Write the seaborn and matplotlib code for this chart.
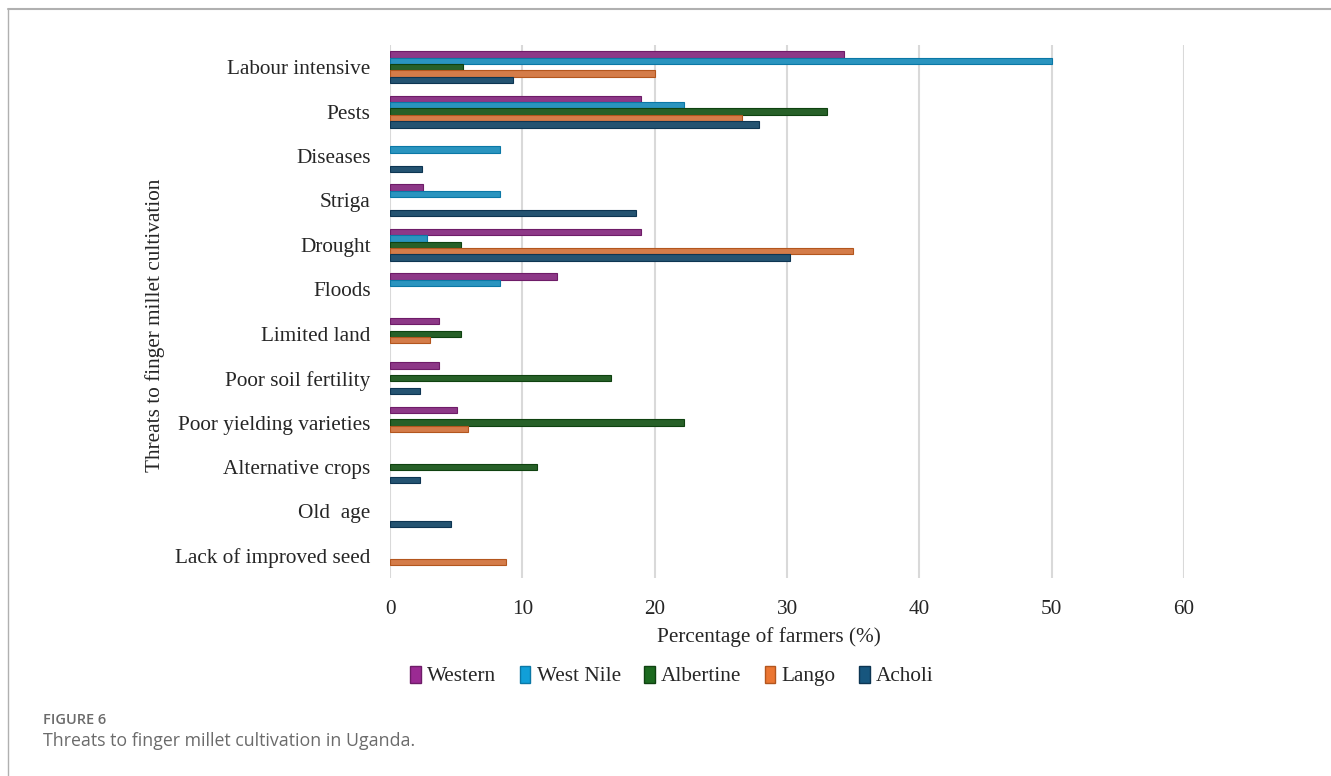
import seaborn as sns, numpy as np, pandas as pd, matplotlib.pyplot as plt
from matplotlib.lines import Line2D
from matplotlib.patches import Patch

# categories (top to bottom)
threats = ['Labour intensive', 'Pests', 'Diseases', 'Striga', 'Drought', 'Floods',
           'Limited land', 'Poor soil fertility', 'Poor yielding varieties',
           'Alternative crops', 'Old  age', 'Lack of improved seed']
regions = ['Western', 'West Nile', 'Albertine', 'Lango', 'Acholi']

# percentage of farmers per region (0 = no bar)
western   = [34.3, 19.0, 0,   2.5,  19.0, 12.6, 3.7, 3.7,  5.1,  0,    0,   0]
west_nile = [50.0, 22.2, 8.3, 8.3,  2.8,  8.3,  0,   0,    0,    0,    0,   0]
albertine = [5.5,  33.0, 0,   0,    5.4,  0,    5.4, 16.7, 22.2, 11.1, 0,   0]
lango     = [20.0, 26.6, 0,   0,    35.0, 0,    3.0, 0,    5.9,  0,    0,   8.8]
acholi    = [9.3,  27.9, 2.4, 18.6, 30.2, 0,    0,   2.3,  0,    2.3,  4.6, 0]

colors = ['#9B2A93', '#119FD8', '#1D6A1F', '#EB7632', '#17567E']
edges = ['#6e1c68', '#0b78a6', '#0f4210', '#b3561e', '#0d3552']

rows = []
for reg, vals in zip(regions, [western, west_nile, albertine, lango, acholi]):
    for t, v in zip(threats, vals):
        if v > 0:
            rows.append({'threat': t, 'region': reg, 'pct': v})
df = pd.DataFrame(rows)

sns.set_style('white')
plt.rcParams['font.family'] = ['Liberation Serif', 'DejaVu Serif']
fs = 15.3

fig = plt.figure(figsize=(13.31, 7.76), dpi=100)
ax = fig.add_axes([390 / 1331, 1 - 578 / 776, (1184 - 390) / 1331, (578 - 45) / 776])

sns.barplot(data=df, y='threat', x='pct', hue='region', order=threats, hue_order=regions,
            palette=colors, orient='h', width=0.72, ax=ax, legend=False, linewidth=0.8)
for cont, ec in zip(ax.containers, edges):
    for b in cont:
        b.set_edgecolor(ec)

ax.set_xlim(0, 60)
ax.set_ylim(len(threats) - 0.5, -0.5)
ax.set_xticks(range(0, 61, 10))
ax.grid(axis='x', color='#d9d9d9', linewidth=1.5)
ax.set_axisbelow(True)
for s in ax.spines.values():
    s.set_visible(False)
ax.tick_params(axis='both', length=0, labelsize=fs)
ax.tick_params(axis='x', pad=16)
ax.tick_params(axis='y', pad=14)
ax.set_ylabel('')
ax.set_xlabel('Percentage of farmers (%)', fontsize=fs)
ax.xaxis.set_label_coords((769 - 390) / 794, -(637 - 578) / 533)
ax.xaxis.label.set_va('center')

fig.text(155 / 1331, 1 - 325 / 776, 'Threats to finger millet cultivation', rotation=90,
         ha='center', va='center', fontsize=fs)

handles = [Patch(facecolor=c, edgecolor=e) for c, e in zip(colors, edges)]
fig.legend(handles, regions, loc='center', bbox_to_anchor=(672 / 1331, 1 - 676 / 776), ncol=5,
           frameon=False, fontsize=fs, handlelength=0.5, handleheight=0.85, handletextpad=0.3,
           columnspacing=1.1)

# outer frame and caption
fig.add_artist(Line2D([8 / 1331, 1], [1 - 8.5 / 776, 1 - 8.5 / 776], color='#b0b0b0', lw=1.5))
fig.add_artist(Line2D([8 / 1331, 8 / 1331], [0, 1 - 8.5 / 776], color='#b0b0b0', lw=1))
fig.text(43 / 1331, 1 - 720 / 776, 'FIGURE 6', fontsize=10.5, color='#6b6b6b', weight='semibold',
         family=['Open Sans', 'DejaVu Sans'], va='center')
fig.text(43 / 1331, 1 - 741 / 776, 'Threats to finger millet cultivation in Uganda.', fontsize=12.8,
         color='#6b6b6b', family=['Open Sans', 'DejaVu Sans'], va='center')

fig.savefig('out.png', dpi=100)
